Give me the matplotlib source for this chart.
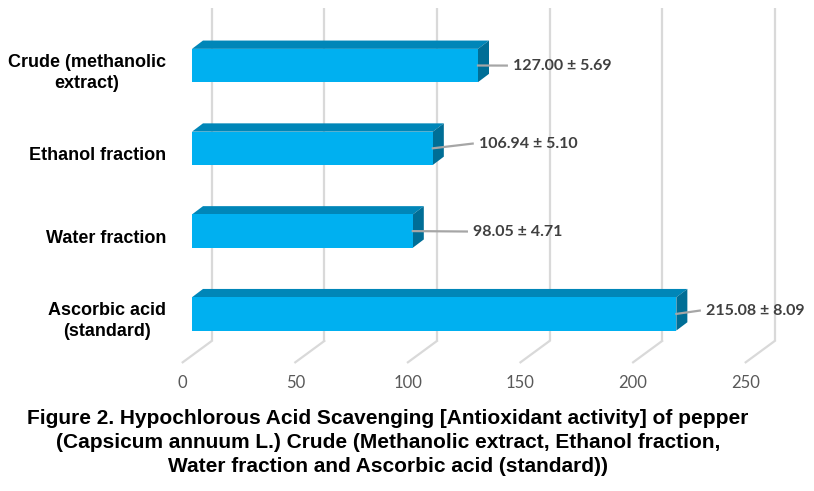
import matplotlib
matplotlib.use("Agg")
import matplotlib.pyplot as plt
from matplotlib.patches import Polygon
from matplotlib import font_manager

categories = ["Crude (methanolic\nextract)", "Ethanol fraction", "Water fraction", "Ascorbic acid\n(standard)"]
means = [127.00, 106.94, 98.05, 215.08]
sds = [5.69, 5.10, 4.71, 8.09]
ticks = [0, 50, 100, 150, 200, 250]
title = ("Figure 2. Hypochlorous Acid Scavenging [Antioxidant activity] of pepper\n"
         "(Capsicum annuum L.) Crude (Methanolic extract, Ethanol fraction,\n"
         "Water fraction and Ascorbic acid (standard))")

# label placement (styling): offset from bar end in value units, vertical offset in category units
lab_dx = [15.5, 20.4, 26.7, 13.1]
lab_dy = [0.006, -0.052, 0.01, -0.035]

W, H = 814, 491
fig = plt.figure(figsize=(W / 100, H / 100), dpi=100)
ax = fig.add_axes([0, 0, 1, 1])
pxu = 2.252   # px per value unit
x0 = 192.0    # px of value 0 on the front plane
yc0 = 65.5    # px of first category
ys = 82.8     # px per category
ax.set_xlim(-x0 / pxu, (W - x0) / pxu)
ax.set_ylim((H - yc0) / ys, -yc0 / ys)
ax.axis("off")

def vx(px):
    return (px - x0) / pxu

def vy(px):
    return (px - yc0) / ys

avail = {f.name for f in font_manager.fontManager.ttflist}
narrow = "Liberation Sans Narrow" if "Liberation Sans Narrow" in avail else "Liberation Sans"

grid_c = "#D9D9D9"
back_off = vx(211.7)
front_off = vx(182.7)
g_top, g_bot, g_floor = vy(8), vy(341), vy(362.3)
for t in ticks:
    ax.plot([t + back_off, t + back_off], [g_top, g_bot], color=grid_c, lw=1.6, zorder=1,
            solid_capstyle="butt")
    ax.plot([t + back_off, t + front_off], [g_bot, g_floor], color=grid_c, lw=1.6, zorder=1)
    ax.text(t + front_off, vy(383), str(t), ha="center", va="center", color="#595959",
            fontsize=12, family="Lato")

h = 33.3 / 2 / ys
dx = 11 / pxu
dy = -8.3 / ys
front_c, top_c, side_c = "#00B0F0", "#0086B8", "#006E96"
for i, (v, s) in enumerate(zip(means, sds)):
    y = i
    front = [(0, y - h), (v, y - h), (v, y + h), (0, y + h)]
    top = [(0, y - h), (dx, y - h + dy), (v + dx, y - h + dy), (v, y - h)]
    side = [(v, y - h), (v + dx, y - h + dy), (v + dx, y + h + dy), (v, y + h)]
    ax.add_patch(Polygon(top, closed=True, fc=top_c, ec="none", zorder=3))
    ax.add_patch(Polygon(side, closed=True, fc=side_c, ec="none", zorder=3))
    ax.add_patch(Polygon(front, closed=True, fc=front_c, ec="none", zorder=4))
    lx = v + lab_dx[i]
    ly = y + lab_dy[i]
    ax.plot([v, lx - 2.7], [y, ly - 0.005], color="#A6A6A6", lw=1.6, zorder=5)
    ax.text(lx, ly, f"{v:.2f} ± {s:.2f}", ha="left", va="center", color="#404040",
            fontsize=11.5, fontweight="bold", family="Lato", zorder=6)
    ax.text(vx(166), y + 0.09, categories[i], ha="right", va="center", multialignment="center",
            color="black", fontsize=13, fontweight="bold", family="Liberation Sans",
            linespacing=1.3)

fig.text(388 / W, 1 - 442.5 / H, title, ha="center", va="center", fontsize=15,
         fontweight="bold", family=narrow, linespacing=1.3, color="black")

fig.savefig("out.png", dpi=100)
